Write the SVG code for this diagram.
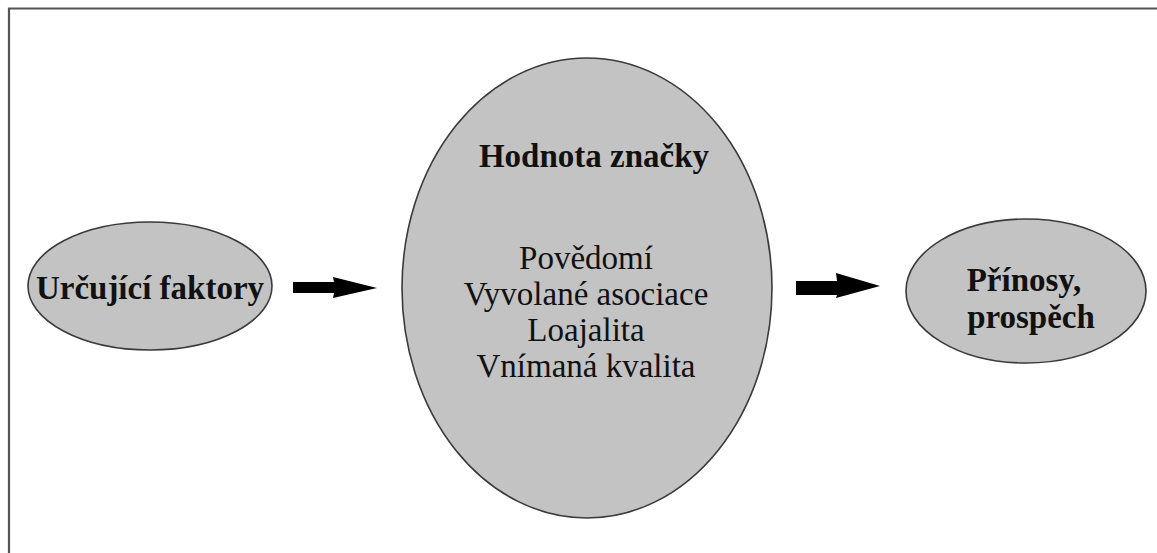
<svg xmlns="http://www.w3.org/2000/svg" width="1157" height="553" viewBox="0 0 1157 553">
<style>
.node{fill:#c3c3c3;stroke:#3a3a3a;stroke-width:1.6}
.b{font-family:"Liberation Serif","Times New Roman",serif;font-weight:bold;font-size:33px;fill:#111;text-anchor:middle}
.r{font-family:"Liberation Serif","Times New Roman",serif;font-size:33px;fill:#111;text-anchor:middle}
.arrow{fill:#000}
</style>
<rect width="1157" height="553" fill="#fff"/>
<path d="M9,553 V8.5 H1157" fill="none" stroke="#555" stroke-width="2.2"/>
<g id="node-faktory">
<ellipse class="node" cx="150" cy="286" rx="122" ry="64"/>
<text class="b" x="150" y="299">Určující faktory</text>
</g>
<g id="node-hodnota">
<ellipse class="node" cx="587" cy="288" rx="185" ry="230"/>
<text class="b" x="594" y="167" font-size="35">Hodnota značky</text>
<text class="r" x="586" y="269">Povědomí</text>
<text class="r" x="586" y="305">Vyvolané asociace</text>
<text class="r" x="586" y="341">Loajalita</text>
<text class="r" x="586" y="377">Vnímaná kvalita</text>
</g>
<g id="node-prinosy">
<ellipse class="node" cx="1026" cy="291" rx="120" ry="72"/>
<text class="b" x="1024" y="291">Přínosy,</text>
<text class="b" x="1031" y="328">prospěch</text>
</g>
<g id="connectors">
<polygon class="arrow" points="293,282 334,282 333,277 377,288 333,298 334,293 293,293"/>
<polygon class="arrow" points="796,281 837,281 836,273 880,286 836,298 837,295 796,295"/>
</g>
</svg>
